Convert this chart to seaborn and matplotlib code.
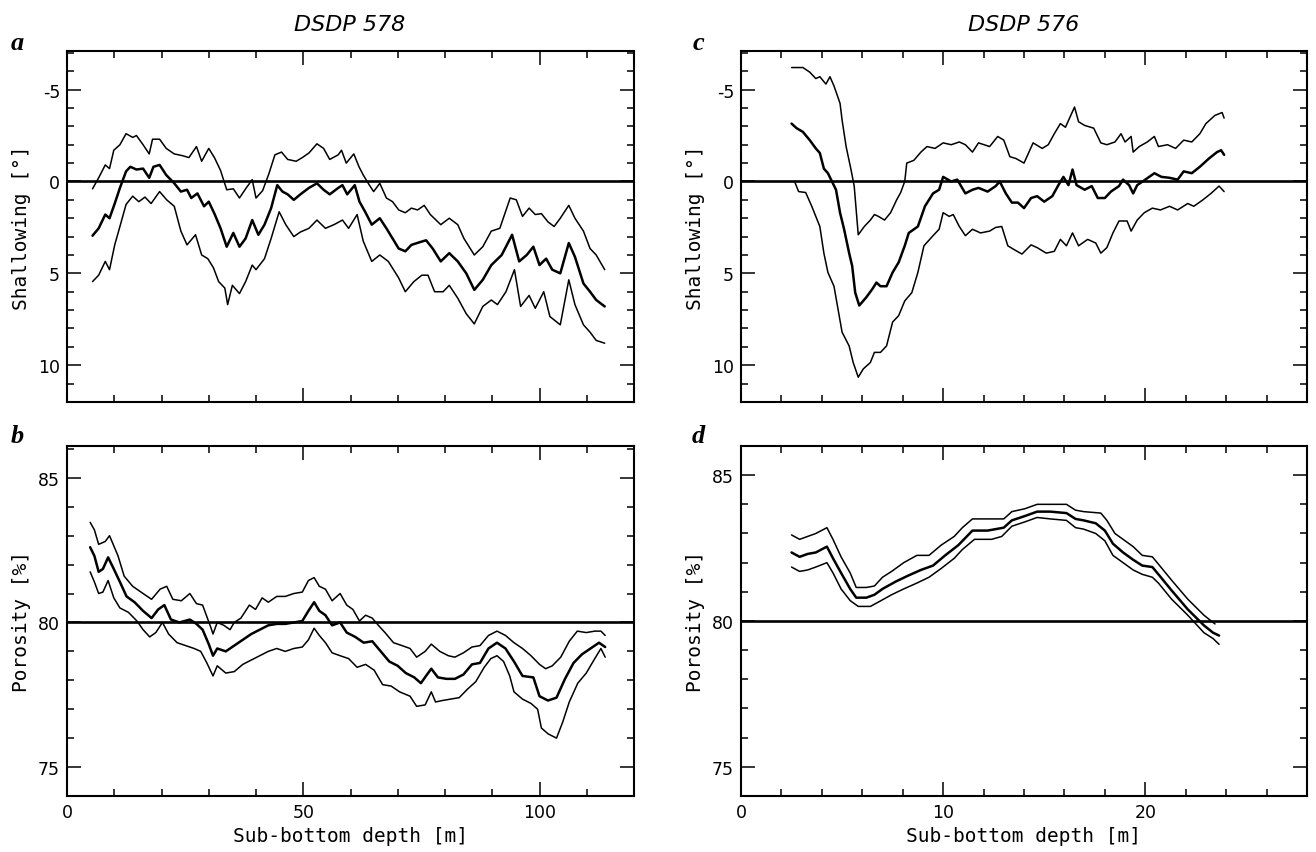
import matplotlib
matplotlib.use("Agg")
import matplotlib.pyplot as plt
import seaborn as sns
from matplotlib.ticker import MultipleLocator

# ---------------- DATA ----------------
# Panel a: DSDP 578 shallowing (deg), three curves
a_up_x = [5.4,6.7,8.1,9.0,9.9,11.2,12.5,13.9,14.7,16.1,17.4,18.1,19.6,21.0,22.7,24.5,25.8,27.4,28.5,30.0,31.2,32.5,33.8,35.2,36.5,37.8,39.2,40.0,41.4,42.7,44.0,45.4,46.7,48.5,49.8,51.2,52.9,54.3,55.6,57.4,58.1,59.1,60.7,61.8,62.7,64.0,64.9,66.2,67.6,68.9,70.2,71.6,72.9,74.2,75.6,76.9,79.1,80.9,82.7,84.0,86.2,88.0,89.8,91.6,93.8,95.1,96.4,97.8,99.1,100.4,101.8,103.1,104.4,106.2,107.5,109.3,110.7,112.0,113.8]
a_up_y = [0.4,-0.2,-0.9,-0.7,-1.7,-2.0,-2.6,-2.4,-2.5,-2.0,-1.5,-2.3,-2.3,-1.8,-1.5,-1.4,-1.3,-1.9,-1.1,-1.8,-1.3,-0.6,0.45,0.4,0.9,0.4,-0.1,0.9,0.5,-0.4,-1.45,-1.6,-1.2,-1.1,-1.3,-1.55,-2.05,-1.8,-1.2,-1.45,-1.7,-1.0,-1.5,-0.8,-0.35,0.2,0.55,0.1,0.9,1.1,1.55,1.7,1.45,1.55,1.3,1.8,2.35,2.0,2.35,3.1,4.0,3.55,2.7,2.55,0.9,1.0,1.9,1.45,1.8,1.75,2.2,2.45,2.0,1.3,2.0,2.7,3.65,4.0,4.8]
a_mid_x = [5.4,6.7,8.1,9.0,10.1,11.2,12.5,13.4,14.7,16.1,17.4,18.3,19.6,21.0,22.7,24.1,25.4,26.3,27.6,29.0,30.0,31.2,32.5,33.8,35.2,36.5,37.8,39.2,40.5,41.8,43.2,44.5,45.6,46.7,48.0,49.4,51.2,52.9,54.3,55.6,57.4,58.3,59.3,60.9,61.9,63.1,64.5,66.2,67.6,68.9,70.2,71.6,72.9,74.7,76.0,77.4,79.1,80.9,82.7,84.5,86.2,88.0,89.8,92.0,94.2,95.7,97.3,98.7,100.0,101.4,102.7,104.4,106.2,107.5,109.3,110.7,112.0,113.8]
a_mid_y = [2.95,2.55,1.8,2.0,1.2,0.35,-0.55,-0.8,-0.65,-0.7,-0.2,-0.8,-0.9,-0.35,0.1,0.55,0.45,0.9,0.65,1.35,1.1,1.75,2.55,3.55,2.8,3.55,3.1,2.1,2.9,2.35,1.45,0.2,0.55,0.7,1.0,0.7,0.35,0.1,0.45,0.7,0.35,0.2,0.7,0.2,1.1,1.65,2.35,2.0,2.55,3.1,3.65,3.8,3.45,3.3,3.2,3.65,4.35,3.9,4.35,5.0,5.9,5.35,4.55,4.0,2.9,4.35,4.0,3.55,4.55,4.2,4.8,5.0,3.35,4.1,5.55,6.0,6.45,6.8]
a_low_x = [5.4,6.7,8.1,9.0,10.1,11.2,12.5,13.9,15.2,16.5,17.8,19.6,21.1,22.7,24.1,25.4,27.2,28.5,29.8,31.0,32.1,33.4,34.0,35.0,36.5,37.8,39.2,40.0,41.8,43.2,44.9,46.3,48.0,49.4,51.2,52.9,54.7,56.5,58.3,59.6,61.4,62.7,64.5,66.2,68.0,70.2,71.6,73.4,75.1,76.4,77.8,79.6,80.9,82.7,84.5,86.2,88.0,89.8,91.1,92.9,94.7,96.0,97.8,99.1,100.9,102.2,104.4,106.2,107.5,109.3,110.7,112.0,113.8]
a_low_y = [5.45,5.1,4.35,4.8,3.45,2.45,1.25,0.8,1.1,0.85,1.2,0.55,1.0,1.35,2.7,3.45,2.9,4.0,4.2,4.7,5.45,5.8,6.7,5.65,6.1,5.45,4.55,4.8,4.2,3.1,1.65,2.35,3.0,2.75,2.55,2.1,2.55,2.35,2.1,2.55,1.8,3.25,4.35,4.0,4.35,5.25,6.0,5.45,5.1,5.1,6.0,6.0,5.65,6.35,7.2,7.75,6.8,6.45,6.7,6.0,4.8,6.8,6.2,6.9,6.0,7.35,7.8,5.35,6.7,7.8,8.2,8.65,8.8]

# Panel b: DSDP 578 porosity (%)
b_up_x = [4.9,5.8,6.7,8.1,9.0,9.9,10.8,12.1,13.9,16.1,17.9,19.7,21.1,22.4,24.2,26.0,27.4,28.7,29.6,30.5,30.9,31.8,33.2,34.5,35.4,36.8,38.6,39.9,41.3,42.6,44.4,46.2,48.0,49.8,51.1,52.3,53.4,54.7,56.1,57.8,59.2,60.5,61.9,63.2,64.6,65.9,67.3,69.1,70.9,72.6,74.0,75.8,77.1,78.9,80.7,82.1,83.9,85.7,87.4,89.2,91.0,92.8,94.6,96.4,98.2,100.0,101.3,102.7,104.5,106.3,108.0,109.9,111.7,113.0,113.9]
b_up_y = [83.46,83.2,82.7,82.8,83.0,82.65,82.3,81.6,81.25,81.0,80.8,81.15,81.25,80.8,80.75,81.0,80.65,80.6,80.2,79.8,79.6,80.0,79.9,79.75,80.0,80.15,80.6,80.45,80.85,80.7,80.9,80.9,81.0,81.05,81.45,81.55,81.25,81.15,80.75,81.0,80.6,80.45,80.05,80.25,80.15,79.9,79.65,79.3,79.2,79.1,78.8,79.0,79.25,79.0,78.85,78.8,78.95,79.15,79.2,79.55,79.7,79.55,79.3,79.1,78.85,78.55,78.4,78.5,78.8,79.35,79.7,79.65,79.7,79.7,79.55]
b_mid_x = [4.9,5.8,6.7,7.6,8.7,9.9,11.2,12.6,14.3,16.1,17.9,19.3,20.6,22.0,23.8,26.0,27.4,28.7,30.0,30.9,31.8,33.6,35.4,37.2,39.0,40.8,42.6,44.4,46.2,48.0,49.8,51.1,52.3,53.4,54.7,56.1,57.8,59.2,61.0,62.8,64.6,66.4,68.2,70.0,71.7,73.5,74.9,76.2,77.1,78.5,80.3,82.1,83.9,85.7,87.4,89.2,91.0,92.8,94.6,96.4,98.7,100.0,101.8,103.6,105.4,107.2,109.0,110.8,112.6,113.9]
b_mid_y = [82.6,82.3,81.75,81.85,82.25,81.85,81.4,80.9,80.7,80.4,80.15,80.45,80.6,80.1,80.0,80.1,79.95,79.75,79.25,78.85,79.1,79.0,79.2,79.4,79.6,79.75,79.9,79.95,79.95,80.0,80.05,80.4,80.7,80.4,80.25,79.9,80.0,79.65,79.5,79.3,79.35,79.0,78.65,78.5,78.25,78.1,77.9,78.2,78.4,78.1,78.05,78.05,78.2,78.55,78.6,79.1,79.3,79.1,78.65,78.15,78.1,77.45,77.3,77.4,78.05,78.6,78.9,79.1,79.3,79.15]
b_low_x = [4.9,5.8,6.7,7.6,8.7,9.9,11.2,13.0,14.8,16.1,17.5,18.8,20.2,21.5,23.3,25.1,26.9,28.3,29.6,30.9,31.8,33.6,35.4,37.2,39.0,40.8,42.6,44.4,46.2,48.0,49.8,51.1,52.3,53.4,54.7,56.1,57.8,59.6,61.4,63.2,65.0,66.8,68.6,70.4,72.6,74.0,75.8,77.1,78.0,79.4,81.2,83.0,84.8,86.5,88.3,89.7,91.0,92.4,93.7,94.6,96.4,98.2,99.6,100.4,101.8,103.6,104.9,106.3,108.1,109.9,111.7,113.0,113.9]
b_low_y = [81.75,81.4,81.0,81.05,81.45,80.85,80.5,80.35,80.05,79.75,79.5,79.65,80.0,79.6,79.3,79.2,79.1,79.0,78.6,78.15,78.5,78.25,78.3,78.55,78.7,78.85,79.0,79.1,79.0,79.1,79.15,79.4,79.8,79.55,79.3,78.95,78.85,78.75,78.45,78.55,78.35,77.85,77.8,77.6,77.45,77.1,77.15,77.6,77.25,77.3,77.35,77.4,77.7,77.95,78.45,78.75,78.85,78.65,78.15,77.6,77.35,77.2,77.0,76.35,76.15,76.0,76.55,77.25,77.9,78.25,78.75,79.1,78.8]

# Panel c: DSDP 576 shallowing (deg)
c_up_x = [2.5,3.06,3.4,3.7,3.9,4.2,4.4,4.6,4.9,5.0,5.2,5.45,5.6,5.8,6.1,6.4,6.6,6.8,7.1,7.4,7.7,7.9,8.1,8.2,8.55,8.9,9.2,9.6,10.0,10.4,10.8,11.1,11.45,11.75,12.3,12.7,13.0,13.3,13.6,14.0,14.45,14.9,15.2,15.5,15.8,16.05,16.5,16.7,17.0,17.45,17.8,18.1,18.5,18.8,19.0,19.3,19.4,19.7,20.1,20.45,20.65,21.1,21.5,21.9,22.3,22.7,23.0,23.45,23.8,23.9]
c_up_y = [-6.2,-6.2,-5.95,-5.6,-5.7,-5.3,-5.7,-5.2,-4.25,-3.35,-1.9,-0.6,0.25,2.9,2.45,2.1,1.8,1.9,2.1,1.7,1.0,0.6,0.0,-1.0,-1.15,-1.6,-1.9,-1.8,-2.1,-2.0,-2.15,-2.0,-1.6,-2.1,-1.9,-2.45,-2.25,-1.35,-1.25,-1.0,-2.1,-1.8,-2.0,-2.6,-3.15,-2.95,-4.05,-3.25,-3.05,-2.9,-2.1,-2.0,-2.15,-2.6,-2.15,-2.45,-1.6,-1.9,-2.15,-2.45,-1.9,-2.0,-1.8,-2.25,-2.15,-2.6,-3.15,-3.6,-3.75,-3.45]
c_mid_x = [2.5,2.75,3.06,3.4,3.7,3.9,4.1,4.3,4.5,4.7,4.9,5.1,5.35,5.5,5.65,5.85,6.2,6.5,6.7,6.9,7.2,7.5,7.8,8.1,8.3,8.75,9.1,9.5,9.8,10.0,10.4,10.7,11.1,11.45,11.75,12.2,12.6,12.8,13.1,13.4,13.7,14.0,14.35,14.65,15.0,15.4,15.7,15.95,16.2,16.4,16.6,17.0,17.35,17.65,18.0,18.3,18.7,18.9,19.2,19.4,19.6,20.0,20.45,20.8,21.2,21.6,21.9,22.3,22.7,23.15,23.55,23.75,23.9]
c_mid_y = [-3.15,-2.9,-2.7,-2.25,-1.8,-1.55,-0.7,-0.45,0.0,0.45,1.7,2.6,3.9,4.6,6.05,6.75,6.3,5.85,5.5,5.7,5.7,4.95,4.4,3.5,2.8,2.45,1.35,0.65,0.45,-0.25,0.0,-0.1,0.65,0.45,0.35,0.55,0.25,0.0,0.65,1.15,1.15,1.45,0.9,0.8,1.1,0.8,0.2,-0.25,0.2,-0.65,0.2,0.45,0.25,0.9,0.9,0.55,0.25,-0.1,0.2,0.65,0.2,-0.1,-0.45,-0.25,-0.2,-0.1,-0.55,-0.45,-0.8,-1.25,-1.6,-1.7,-1.45]
c_low_x = [2.65,2.85,3.2,3.5,3.9,4.1,4.3,4.6,4.8,5.0,5.35,5.55,5.8,6.05,6.4,6.6,6.9,7.2,7.5,7.8,8.1,8.45,8.75,9.05,9.5,9.8,10.0,10.3,10.5,10.8,11.1,11.45,11.85,12.3,12.6,12.9,13.2,13.5,13.9,14.35,14.65,15.1,15.5,15.8,16.1,16.4,16.7,17.15,17.55,17.8,18.1,18.4,18.7,19.1,19.3,19.6,19.95,20.35,20.75,21.2,21.6,22.1,22.4,22.85,23.25,23.65,23.9]
c_low_y = [0.0,0.55,0.6,1.35,2.45,3.9,4.95,5.7,6.95,8.2,8.95,9.85,10.65,10.2,9.85,9.3,9.3,8.95,7.65,7.3,6.5,6.05,4.95,3.5,2.95,2.6,1.7,1.9,1.8,2.45,2.95,2.6,2.8,2.7,2.5,2.45,3.5,3.7,3.95,3.45,3.6,3.9,3.8,3.15,3.5,2.8,3.5,3.15,3.35,3.9,3.6,2.8,2.15,2.15,2.7,2.1,1.7,1.45,1.55,1.35,1.55,1.2,1.35,1.0,0.65,0.25,0.55]

# Panel d: DSDP 576 porosity (%)
d_up_x = [2.5,2.9,3.3,3.7,4.25,4.55,4.95,5.4,5.7,6.2,6.6,7.0,7.45,8.05,8.7,9.3,9.9,10.55,10.95,11.45,12.2,13.0,13.4,14.05,14.65,15.3,16.1,16.55,16.95,17.8,18.1,18.5,19.0,19.4,19.85,20.35,20.65,21.3,22.1,22.9,23.35,23.45]
d_up_y = [82.95,82.8,82.9,83.0,83.2,82.8,82.2,81.65,81.15,81.15,81.2,81.5,81.7,82.0,82.25,82.25,82.6,82.9,83.2,83.5,83.5,83.5,83.75,83.85,84.0,84.0,84.0,83.8,83.75,83.7,83.45,83.0,82.75,82.55,82.25,82.2,81.95,81.4,80.75,80.2,79.95,79.9]
d_mid_x = [2.5,2.9,3.3,3.7,4.25,4.55,4.95,5.4,5.7,6.2,6.6,7.0,7.65,8.25,8.9,9.5,10.1,10.75,11.45,12.2,13.0,13.4,14.05,14.65,15.3,16.1,16.55,16.95,17.55,18.0,18.4,18.9,19.4,19.85,20.35,20.65,21.3,22.1,22.9,23.35,23.65]
d_mid_y = [82.35,82.2,82.3,82.35,82.55,82.15,81.65,81.1,80.8,80.8,80.9,81.1,81.35,81.55,81.75,81.9,82.25,82.6,83.1,83.1,83.2,83.45,83.6,83.75,83.75,83.7,83.5,83.45,83.35,83.1,82.65,82.35,82.1,81.9,81.85,81.6,81.05,80.4,79.85,79.6,79.5]
d_low_x = [2.5,2.9,3.3,3.7,4.25,4.55,4.95,5.4,5.8,6.4,6.8,7.45,8.05,8.7,9.3,9.9,10.55,10.95,11.55,12.4,12.9,13.4,14.05,14.65,15.3,16.1,16.55,16.95,17.55,18.0,18.4,18.9,19.4,19.85,20.35,20.65,21.3,22.1,22.9,23.35,23.65]
d_low_y = [81.85,81.7,81.75,81.85,82.0,81.65,81.1,80.7,80.5,80.5,80.65,80.9,81.1,81.3,81.5,81.8,82.15,82.45,82.8,82.8,82.9,83.25,83.4,83.55,83.5,83.45,83.2,83.15,83.0,82.75,82.25,82.0,81.75,81.6,81.5,81.3,80.75,80.2,79.6,79.4,79.2]

titles = ["DSDP 578", "DSDP 576"]
panel_letters = ["a", "b", "c", "d"]
ylabel_shallow = "Shallowing [°]"
ylabel_poros = "Porosity [%]"
xlabel_depth = "Sub-bottom depth [m]"

# ---------------- STYLE ----------------
sns.set_theme(style="ticks")
plt.rcParams["font.family"] = ["DejaVu Sans"]
plt.rcParams["axes.unicode_minus"] = False
plt.rcParams["text.color"] = "black"
plt.rcParams["axes.labelcolor"] = "black"

W, H = 1316, 853
fig = plt.figure(figsize=(W / 100, H / 100), dpi=100)
fig.patch.set_facecolor("white")


def rect(l, t, r, b):
    return [l / W, 1 - b / H, (r - l) / W, (b - t) / H]


ax_a = fig.add_axes(rect(67, 52, 634, 403))
ax_b = fig.add_axes(rect(67, 447, 634, 797))
ax_c = fig.add_axes(rect(741, 52, 1307, 403))
ax_d = fig.add_axes(rect(741, 447, 1307, 797))

THIN, THICK = 1.1, 1.8


def draw(ax, curves, ref):
    for x, y, lw in curves:
        sns.lineplot(x=x, y=y, ax=ax, color="black", linewidth=lw,
                     estimator=None, sort=False, legend=False)
    ax.axhline(ref, color="black", linewidth=1.9, zorder=1)


def style(ax, xlim, ylim, xmaj, xmin, ymaj, ymin, bottom_labels):
    ax.set_facecolor("white")
    ax.set_xlim(*xlim)
    ax.set_ylim(*ylim)
    ax.xaxis.set_major_locator(MultipleLocator(xmaj))
    ax.xaxis.set_minor_locator(MultipleLocator(xmin))
    ax.yaxis.set_major_locator(MultipleLocator(ymaj))
    ax.yaxis.set_minor_locator(MultipleLocator(ymin))
    ax.tick_params(which="both", direction="in", top=True, right=True,
                   bottom=True, left=True, width=1.1, color="black",
                   labelcolor="black", labelsize=12.5)
    ax.tick_params(which="major", length=10, pad=5)
    ax.tick_params(which="minor", length=5)
    ax.tick_params(axis="x", labelbottom=bottom_labels)
    for s in ax.spines.values():
        s.set_visible(True)
        s.set_linewidth(1.5)
        s.set_color("black")
    ax.grid(False)


draw(ax_a, [(a_up_x, a_up_y, THIN), (a_mid_x, a_mid_y, THICK), (a_low_x, a_low_y, THIN)], 0)
draw(ax_b, [(b_up_x, b_up_y, THIN), (b_mid_x, b_mid_y, THICK), (b_low_x, b_low_y, THIN)], 80)
draw(ax_c, [(c_up_x, c_up_y, THIN), (c_mid_x, c_mid_y, THICK), (c_low_x, c_low_y, THIN)], 0)
draw(ax_d, [(d_up_x, d_up_y, THIN), (d_mid_x, d_mid_y, THICK), (d_low_x, d_low_y, THIN)], 80)

style(ax_a, (0, 120), (12, -7.1), 50, 10, 5, 1, False)
style(ax_b, (0, 120), (74, 86.1), 50, 10, 5, 1, True)
style(ax_c, (0, 28), (12, -7.1), 10, 2, 5, 1, False)
style(ax_d, (0, 28), (74, 86.0), 10, 2, 5, 1, True)

mono = "DejaVu Sans Mono"
for ax in (ax_a, ax_c):
    ax.set_ylabel(ylabel_shallow, family=mono, fontsize=14, labelpad=5, color="black")
    ax.set_xlabel("")
for ax in (ax_b, ax_d):
    ax.set_ylabel(ylabel_poros, family=mono, fontsize=14, labelpad=5, color="black")
    ax.set_xlabel(xlabel_depth, family=mono, fontsize=14, labelpad=4, color="black")

# column titles
fig.text(350 / W, 1 - 25 / H, titles[0], ha="center", va="center",
         style="italic", fontsize=16, color="black")
fig.text(1024 / W, 1 - 25 / H, titles[1], ha="center", va="center",
         style="italic", fontsize=16, color="black")

# panel letters
letter_pos = [(17, 43), (17, 437), (698, 43), (698, 437)]
for (px, py), let in zip(letter_pos, panel_letters):
    fig.text(px / W, 1 - py / H, let, ha="center", va="center",
             family="Liberation Serif", weight="bold", style="italic",
             fontsize=19, color="black")

fig.savefig("out.png", dpi=100, facecolor="white")
